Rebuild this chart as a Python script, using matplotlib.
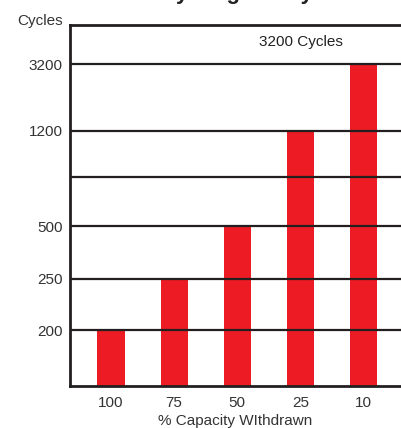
import numpy as np
import matplotlib.pyplot as plt

plt.rcParams['font.family'] = ['Liberation Sans', 'DejaVu Sans']

# data
capacity = ["100", "75", "50", "25", "10"]
cycles = [200, 250, 500, 1200, 3200]
grid_levels = [200, 250, 500, 800, 1200, 3200]
tick_labels = ["200", "250", "500", "", "1200", "3200"]

# the chart uses an uneven (stepped) vertical scale
scale_vals = [0, 200, 250, 500, 800, 1200, 3200, 5000]
scale_pos = [0, 56, 107, 160, 209, 255, 322, 361]

def fwd(v):
    return np.interp(v, scale_vals, scale_pos)

def inv(p):
    return np.interp(p, scale_pos, scale_vals)

RED = "#ED1C24"
DARK = "#231F20"

fig = plt.figure(figsize=(4.01, 4.28), dpi=100)
ax = fig.add_axes([69.5 / 401, 42 / 428, 1 - 69.5 / 401, 361 / 428])
ax.set_yscale("function", functions=(fwd, inv))
ax.set_ylim(0, 5000)

x = np.arange(len(capacity))
ax.bar(x, cycles, 0.43, color=RED, zorder=2)
for lv in grid_levels:
    ax.axhline(lv, color=DARK, lw=1.6, zorder=3)

ax.set_xlim(-0.658, 4.596)
ax.set_xticks(x, capacity)
ax.set_yticks(grid_levels, tick_labels)
ax.tick_params(length=0, labelsize=11, colors="#333333", pad=5)
ax.tick_params(axis="x", pad=7)
ax.yaxis.set_minor_locator(plt.NullLocator())

for s in ["left", "bottom", "top"]:
    ax.spines[s].set_linewidth(2)
    ax.spines[s].set_color(DARK)
ax.spines["right"].set_visible(False)

ax.set_xlabel("% Capacity WIthdrawn", fontsize=11, color="#333333", labelpad=3)
fig.text(63 / 401, 1 - 25 / 428, "Cycles", ha="right", va="baseline",
         fontsize=11, color="#333333")
fig.text(301 / 401, 1 - 42 / 428, "3200 Cycles", ha="center", va="center",
         fontsize=11, color="#222222")
# title sits mostly above the top edge, as in the source image
fig.text(236 / 401, 1 + 1 / 428, "Cycling Ability", ha="center", va="baseline",
         fontsize=16, fontweight="bold", color="#222222")

fig.savefig("out.png", dpi=100)
